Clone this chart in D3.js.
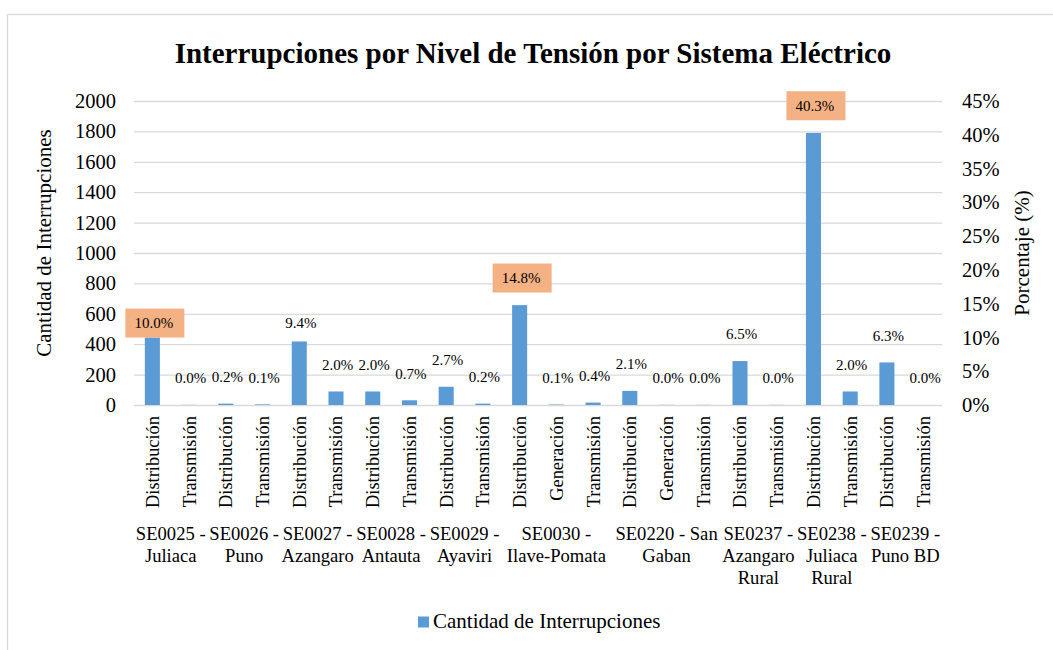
<!DOCTYPE html>
<html>
<head>
<meta charset="utf-8">
<script src="https://cdn.jsdelivr.net/npm/d3@7"></script>
<style>
  body { margin: 0; background: #fff; }
  text { font-family: "Liberation Serif", "Times New Roman", serif; fill: #000; }
</style>
</head>
<body>
<svg id="chart" width="1053" height="650"></svg>
<script>

// data
var groups = ["SE0025 - Juliaca", "SE0026 - Puno", "SE0027 - Azangaro", "SE0028 - Antauta",
  "SE0029 - Ayaviri", "SE0030 - Ilave-Pomata", "SE0220 - San Gaban", "SE0237 - Azangaro Rural",
  "SE0238 - Juliaca Rural", "SE0239 - Puno BD"];

var barGroup = [0, 0, 1, 1, 2, 2, 3, 3, 4, 4, 5, 5, 5, 6, 6, 6, 7, 7, 8, 8, 9, 9];

var levels = ["Distribución", "Transmisión", "Distribución", "Transmisión", "Distribución", "Transmisión",
  "Distribución", "Transmisión", "Distribución", "Transmisión", "Distribución", "Generación", "Transmisión",
  "Distribución", "Generación", "Transmisión", "Distribución", "Transmisión", "Distribución", "Transmisión",
  "Distribución", "Transmisión"];

var cantidad = [444, 1, 9, 4, 418, 89, 89, 31, 120, 9, 657, 3, 16, 93, 1, 1, 289, 1, 1790, 89, 280, 0];

var porcentaje = [10.0, 0.0, 0.2, 0.1, 9.4, 2.0, 2.0, 0.7, 2.7, 0.2, 14.8, 0.1, 0.4, 2.1, 0.0, 0.0, 6.5, 0.0, 40.3, 2.0, 6.3, 0.0];

var highlighted = [0, 10, 18];

var leftTicks = [0, 200, 400, 600, 800, 1000, 1200, 1400, 1600, 1800, 2000];
var rightTicks = [0, 5, 10, 15, 20, 25, 30, 35, 40, 45];

// setup
var svg = d3.select("svg#chart"),
    margin = {left: 134, right: 111, top: 101, bottom: 245},
    width = +svg.attr("width") - margin.left - margin.right,
    height = +svg.attr("height") - margin.top - margin.bottom;

var barColor = "#5B9BD5",
    boxColor = "#F4B183",
    gridColor = "#D9D9D9";

// chart border
svg.append("rect")
  .attr("x", 7.5)
  .attr("y", 14.5)
  .attr("width", 1060)
  .attr("height", 700)
  .attr("fill", "none")
  .attr("stroke", gridColor)
  .attr("stroke-width", 1.3);

var idx = d3.range(cantidad.length);

var x = d3.scaleBand()
  .domain(idx)
  .range([0, width]);

var y = d3.scaleLinear()
  .domain([0, 2000])
  .range([height, 0]);

var yR = d3.scaleLinear()
  .domain([0, 45])
  .range([height, 0]);

var g = svg.append("g")
  .attr("transform", "translate(" + margin.left + "," + margin.top + ")");

// gridlines + left axis
g.append("g")
  .attr("class", "axisy")
  .call(d3.axisLeft(y)
    .tickValues(leftTicks)
    .tickSize(-width)
    .tickPadding(18)
    .tickFormat(d3.format("d")))
  .call(function(a) {
    a.select(".domain").remove();
    a.selectAll(".tick line").attr("stroke", gridColor).attr("stroke-width", 1.3);
    a.selectAll(".tick text").attr("font-size", "20.5px").attr("fill", "#000")
      .attr("font-family", "Liberation Serif, serif");
  });

// right axis
g.append("g")
  .attr("class", "axisyR")
  .attr("transform", "translate(" + width + ",0)")
  .call(d3.axisRight(yR)
    .tickValues(rightTicks)
    .tickSize(0)
    .tickPadding(20)
    .tickFormat(function(d) { return d + "%"; }))
  .call(function(a) {
    a.select(".domain").remove();
    a.selectAll(".tick text").attr("font-size", "20.5px").attr("fill", "#000")
      .attr("font-family", "Liberation Serif, serif");
  });

// bars
var barW = x.bandwidth() * 0.41;

g.selectAll(".bar")
  .data(idx)
  .enter().append("rect")
    .attr("class", "bar")
    .attr("x", function(i) { return x(i) + x.bandwidth() / 2 - barW / 2; })
    .attr("y", function(i) { return y(cantidad[i]); })
    .attr("width", barW)
    .attr("height", function(i) { return height - y(cantidad[i]); })
    .attr("fill", barColor);

// percentage labels (sit above the hidden % series)
var nudge = {0: 12.6, 4: 8.5};

function labelY(i) {
  return yR(porcentaje[i]) - 27 + (nudge[i] || 0);
}

g.selectAll(".hl-box")
  .data(highlighted)
  .enter().append("rect")
    .attr("class", "hl-box")
    .attr("x", function(i) { return x(i) + x.bandwidth() / 2 - 27; })
    .attr("y", function(i) { return labelY(i) - 14.5; })
    .attr("width", 59)
    .attr("height", 29)
    .attr("fill", boxColor);

g.selectAll(".pct")
  .data(idx)
  .enter().append("text")
    .attr("class", "pct")
    .attr("x", function(i) { return x(i) + x.bandwidth() / 2 + 1.5; })
    .attr("y", labelY)
    .attr("dy", "0.35em")
    .attr("text-anchor", "middle")
    .attr("font-size", "15px")
    .attr("fill", "#1a1a1a")
    .text(function(i) { return porcentaje[i].toFixed(1) + "%"; });

// category labels (rotated)
g.selectAll(".cat")
  .data(idx)
  .enter().append("text")
    .attr("class", "cat")
    .attr("transform", function(i) {
      return "translate(" + (x(i) + x.bandwidth() / 2) + "," + (height + 11) + ") rotate(-90)";
    })
    .attr("dy", "0.35em")
    .attr("text-anchor", "end")
    .attr("font-size", "18.4px")
    .text(function(i) { return levels[i]; });

// group labels, wrapped to the group width
groups.forEach(function(name, gi) {
  var members = idx.filter(function(i) { return barGroup[i] === gi; });
  var x0 = x(members[0]),
      x1 = x(members[members.length - 1]) + x.bandwidth(),
      cx = (x0 + x1) / 2,
      maxW = x1 - x0 + 2;

  var t = g.append("text")
    .attr("class", "group")
    .attr("text-anchor", "middle")
    .attr("font-size", "18.6px");

  var words = name.split(" "),
      line = [],
      lineNo = 0,
      tspan = t.append("tspan").attr("x", cx).attr("y", height + 135);

  words.forEach(function(w) {
    line.push(w);
    tspan.text(line.join(" "));
    if (tspan.node().getComputedTextLength() > maxW && line.length > 1) {
      line.pop();
      tspan.text(line.join(" "));
      line = [w];
      lineNo++;
      tspan = t.append("tspan").attr("x", cx).attr("y", height + 135 + lineNo * 22).text(w);
    }
  });
});

// title
svg.append("text")
  .attr("x", 533)
  .attr("y", 63)
  .attr("text-anchor", "middle")
  .attr("font-size", "29px")
  .attr("font-weight", "bold")
  .text("Interrupciones por Nivel de Tensión por Sistema Eléctrico");

// axis titles
svg.append("text")
  .attr("transform", "translate(44,243) rotate(-90)")
  .attr("dy", "0.35em")
  .attr("text-anchor", "middle")
  .attr("font-size", "21px")
  .text("Cantidad de Interrupciones");

svg.append("text")
  .attr("transform", "translate(1022,253) rotate(-90)")
  .attr("dy", "0.35em")
  .attr("text-anchor", "middle")
  .attr("font-size", "21px")
  .text("Porcentaje (%)");

// legend
var legend = svg.append("g").attr("class", "legend");

legend.append("rect")
  .attr("x", 418)
  .attr("y", 616.5)
  .attr("width", 11)
  .attr("height", 11)
  .attr("fill", barColor);

legend.append("text")
  .attr("x", 433)
  .attr("y", 628)
  .attr("font-size", "21px")
  .text("Cantidad de Interrupciones");

</script>
</body>
</html>
